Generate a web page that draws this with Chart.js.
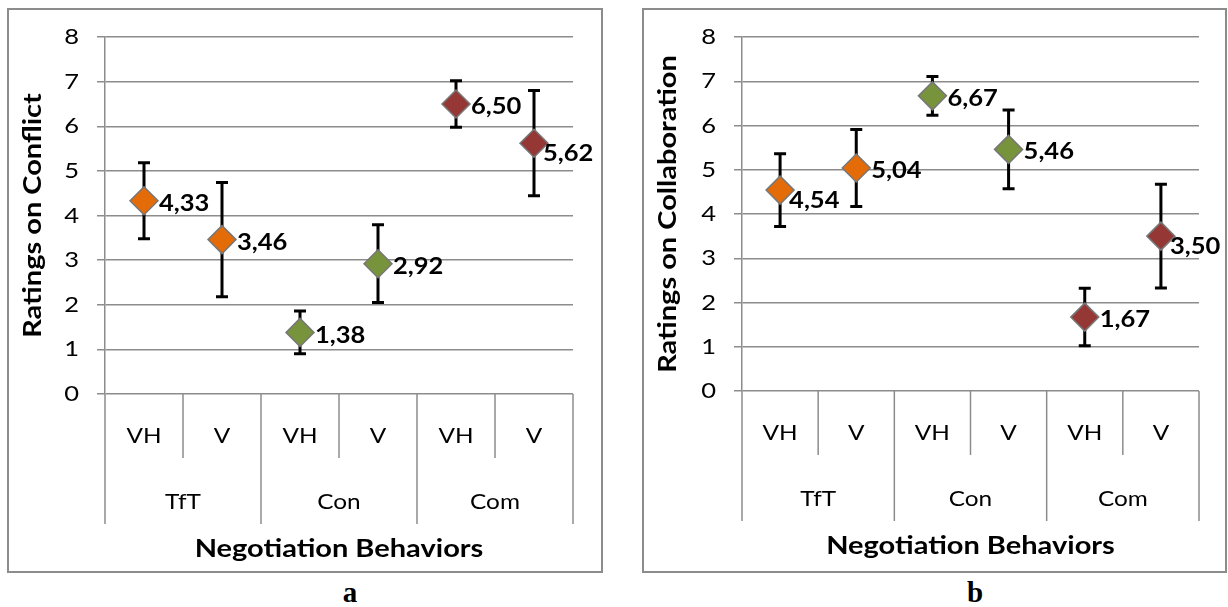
<!DOCTYPE html>
<html lang="en">
<head>
    <meta charset="UTF-8">
    <title>Negotiation Behaviors</title>
    <script src="https://cdn.jsdelivr.net/npm/chart.js"></script>
    <style>
        body {
            margin: 0;
            width: 1228px;
            height: 607px;
            background: #fff;
            position: relative;
            overflow: hidden;
            font-family: Lato, sans-serif;
        }

        .panel {
            position: absolute;
            top: 8px;
            height: 565px;
            box-sizing: border-box;
            border: 2px solid #8c8c8c;
        }

        .panel canvas {
            display: block;
        }

        .tag {
            position: absolute;
            top: 578px;
            font-family: "Liberation Serif", serif;
            font-weight: bold;
            font-size: 29px;
            line-height: 1;
            transform: translateX(-50%);
        }
    </style>
</head>
<body>
    <div class="panel" style="left:7px; width:596px;">
        <canvas id="chartA" width="592" height="561"></canvas>
    </div>
    <div class="panel" style="left:642px; width:585px;">
        <canvas id="chartB" width="581" height="561"></canvas>
    </div>
    <div class="tag" style="left:350px;">a</div>
    <div class="tag" style="left:975px;">b</div>

    <script>
        // categories
        const behaviors = ['VH', 'V', 'VH', 'V', 'VH', 'V'];
        const groups = ['TfT', 'Con', 'Com'];

        // panel a: conflict ratings
        const conflictMeans = [4.33, 3.46, 1.38, 2.92, 6.50, 5.62];
        const conflictErrors = [0.85, 1.28, 0.48, 0.87, 0.52, 1.18];

        // panel b: collaboration ratings
        const collabMeans = [4.54, 5.04, 6.67, 5.46, 1.67, 3.50];
        const collabErrors = [0.82, 0.87, 0.44, 0.89, 0.65, 1.17];

        const yTicks = [0, 1, 2, 3, 4, 5, 6, 7, 8];

        const groupColors = ['#E36C09', '#77933C', '#953735'];
        const gridColor = '#8c8c8c';
        const FONT = 'Lato, sans-serif';
        const SX = 1.16; // Lato is narrower than the Calibri of the original

        function pointColors() {
            return behaviors.map((b, i) => groupColors[Math.floor(i / 2)]);
        }

        // text drawn a bit wider than Lato's natural width
        function wideText(ctx, text, x, y, align) {
            ctx.save();
            ctx.translate(x, y);
            ctx.scale(SX, 1);
            ctx.textAlign = align;
            ctx.fillText(text, 0, 0);
            ctx.restore();
        }

        function makePlugin(yTitle, errors, shifted) {
            return {
                id: 'panelDecor',
                beforeDatasetsDraw(chart) {
                    const ctx = chart.ctx;
                    const x = chart.scales.x, y = chart.scales.y;
                    const vals = chart.data.datasets[0].data;
                    ctx.save();
                    ctx.strokeStyle = '#000';
                    ctx.lineWidth = 3;
                    vals.forEach((v, i) => {
                        const px = x.getPixelForValue(i);
                        const top = y.getPixelForValue(v + errors[i]);
                        const bot = y.getPixelForValue(v - errors[i]);
                        ctx.beginPath();
                        ctx.moveTo(px, top);
                        ctx.lineTo(px, bot);
                        ctx.moveTo(px - 6, top);
                        ctx.lineTo(px + 6, top);
                        ctx.moveTo(px - 6, bot);
                        ctx.lineTo(px + 6, bot);
                        ctx.stroke();
                    });
                    ctx.restore();
                },
                afterDatasetsDraw(chart) {
                    const ctx = chart.ctx;
                    const x = chart.scales.x, y = chart.scales.y;
                    const vals = chart.data.datasets[0].data;
                    ctx.save();
                    ctx.fillStyle = '#000';
                    ctx.font = 'bold 22px ' + FONT;
                    ctx.textBaseline = 'middle';
                    vals.forEach((v, i) => {
                        const px = x.getPixelForValue(i);
                        const py = y.getPixelForValue(v);
                        // labels that Excel pushed down/left next to the error bar
                        const s = shifted.includes(i);
                        wideText(ctx, v.toFixed(2).replace('.', ','), px + (s ? 9 : 15), py + (s ? 11 : 3), 'left');
                    });
                    ctx.restore();
                },
                afterDraw(chart) {
                    const ctx = chart.ctx;
                    const area = chart.chartArea;
                    const x = chart.scales.x, y = chart.scales.y;
                    const n = behaviors.length;
                    const step = (area.right - area.left) / n;
                    ctx.save();
                    ctx.fillStyle = '#000';
                    ctx.textBaseline = 'middle';

                    // y tick labels
                    ctx.font = '22px ' + FONT;
                    yTicks.forEach(t => {
                        wideText(ctx, String(t), area.left - 26, y.getPixelForValue(t), 'right');
                    });

                    // separators of the two-level category axis
                    ctx.strokeStyle = gridColor;
                    ctx.lineWidth = 1.5;
                    for (let i = 0; i <= n; i++) {
                        const px = area.left + i * step;
                        const len = i % 2 === 0 ? 130 : 64;
                        ctx.beginPath();
                        ctx.moveTo(px, area.bottom);
                        ctx.lineTo(px, area.bottom + len);
                        ctx.stroke();
                    }
                    ctx.font = '21px ' + FONT;
                    behaviors.forEach((b, i) => {
                        wideText(ctx, b, x.getPixelForValue(i), area.bottom + 42, 'center');
                    });
                    groups.forEach((g, j) => {
                        const px = (x.getPixelForValue(2 * j) + x.getPixelForValue(2 * j + 1)) / 2;
                        wideText(ctx, g, px, area.bottom + 108, 'center');
                    });

                    // axis titles
                    ctx.font = 'bold 25px ' + FONT;
                    wideText(ctx, 'Negotiation Behaviors', (area.left + area.right) / 2, area.bottom + 155, 'center');
                    ctx.translate(24, (area.top + area.bottom) / 2);
                    ctx.rotate(-Math.PI / 2);
                    wideText(ctx, yTitle, 0, 0, 'center');
                    ctx.restore();
                }
            };
        }

        function makeChart(id, means, errors, yTitle, yWidth, xHeight, padRight, shifted) {
            return new Chart(document.getElementById(id), {
                type: 'line',
                data: {
                    labels: behaviors,
                    datasets: [{
                        data: means,
                        showLine: false,
                        pointStyle: 'rectRot',
                        pointRadius: 14,
                        pointHoverRadius: 14,
                        pointBackgroundColor: pointColors(),
                        pointBorderColor: '#777',
                        pointBorderWidth: 1.5
                    }]
                },
                options: {
                    responsive: false,
                    animation: false,
                    devicePixelRatio: 1,
                    layout: { padding: { top: 27, right: padRight, left: 0, bottom: 0 } },
                    plugins: { legend: { display: false }, tooltip: { enabled: false } },
                    scales: {
                        x: {
                            type: 'category',
                            offset: true,
                            grid: { display: false },
                            border: { display: false },
                            ticks: { display: false },
                            afterFit: s => { s.height = xHeight; }
                        },
                        y: {
                            min: yTicks[0],
                            max: yTicks[yTicks.length - 1],
                            afterBuildTicks: s => { s.ticks = yTicks.map(v => ({ value: v })); },
                            ticks: { display: false },
                            grid: { color: gridColor, lineWidth: 1.5, tickLength: 8, tickColor: gridColor },
                            border: { color: gridColor, width: 1.5 },
                            afterFit: s => { s.width = yWidth; }
                        }
                    }
                },
                plugins: [makePlugin(yTitle, errors, shifted)]
            });
        }

        makeChart('chartA', conflictMeans, conflictErrors, 'Ratings on Conflict', 96, 177, 28, [5]);
        makeChart('chartB', collabMeans, collabErrors, 'Ratings on Collaboration', 98, 180, 26, [0, 5]);
    </script>
</body>
</html>
